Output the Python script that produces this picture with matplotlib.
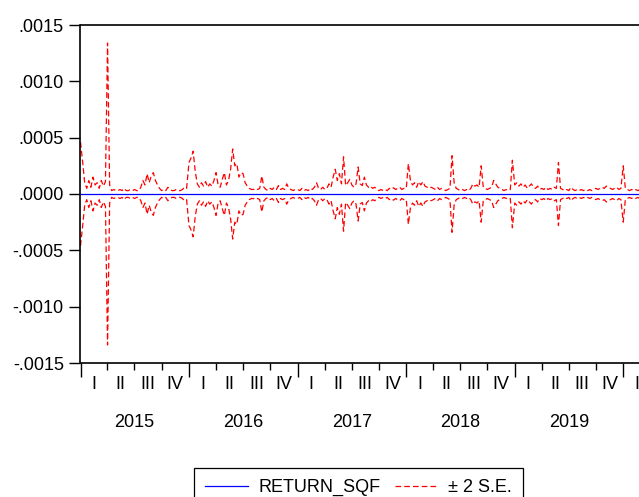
import numpy as np
import pandas as pd
import matplotlib
matplotlib.use('Agg')
import matplotlib.pyplot as plt
from matplotlib.ticker import FuncFormatter
from matplotlib.transforms import blended_transform_factory

plt.rcParams['font.family'] = ['Liberation Sans', 'DejaVu Sans']

# 2*S.E. band (units of 1e-4), one value per week
se2_2015 = [4.6, 2.9, 1.0, 0.5, 1.2, 0.6, 1.5, 0.8, 1.0, 0.5,
            1.2, 0.7, 1.1, 13.4, 0.8, 0.3, 0.4, 0.3, 0.3, 0.4,
            0.3, 0.5, 0.3, 0.3, 0.4, 0.3, 0.4, 0.3, 0.3, 0.6,
            1.2, 0.8, 1.8, 1.0, 1.6, 1.9, 1.2, 0.8, 0.5, 0.3,
            0.4, 0.3, 0.6, 0.4, 0.3, 0.3, 0.4, 0.3, 0.3, 0.4,
            0.6, 0.5]
se2_2016 = [2.8, 3.2, 3.8, 2.0, 0.9, 0.6, 1.0, 0.7, 1.1, 0.6,
            0.9, 0.7, 1.2, 1.9, 0.8, 0.6, 1.3, 1.9, 0.8, 1.2,
            2.2, 4.0, 2.5, 2.7, 1.5, 1.9, 1.8, 1.0, 0.7, 0.5,
            0.4, 0.4, 0.5, 0.4, 0.5, 1.6, 0.6, 0.4, 0.3, 0.5,
            0.4, 0.6, 0.4, 0.75, 0.4, 0.5, 0.4, 0.9, 0.5, 0.4,
            0.3, 0.4]
se2_2017 = [0.4, 0.3, 0.5, 0.3, 0.4, 0.3, 0.5, 0.4, 0.6, 1.0,
            0.5, 0.4, 0.6, 0.4, 0.5, 0.9, 0.6, 1.5, 2.2, 1.2,
            1.8, 0.9, 3.3, 0.75, 1.0, 1.3, 0.8, 0.6, 0.9, 2.4,
            0.9, 0.75, 1.5, 0.8, 0.6, 0.7, 0.5, 0.6, 0.4, 0.3,
            0.4, 0.3, 0.4, 0.3, 0.5, 0.4, 0.55, 0.4, 0.5, 0.6,
            0.4, 0.5]
se2_2018 = [0.5, 2.7, 1.2, 0.8, 1.0, 0.6, 1.1, 0.8, 1.1, 0.7,
            0.6, 0.5, 0.6, 0.5, 0.4, 0.6, 0.4, 0.5, 0.4, 0.3,
            0.4, 0.5, 3.4, 1.0, 0.5, 0.4, 0.3, 0.4, 0.3, 0.4,
            0.3, 0.5, 0.9, 0.7, 0.8, 0.6, 2.5, 0.6, 0.5, 0.4,
            0.5, 0.6, 1.2, 0.9, 0.6, 0.5, 0.4, 0.3, 0.4, 0.3,
            0.4, 3.0]
se2_2019 = [0.8, 1.0, 0.7, 0.9, 0.6, 0.8, 0.5, 0.7, 0.9, 0.6,
            0.5, 0.7, 0.4, 0.5, 0.4, 0.6, 0.4, 0.5, 0.4, 0.6,
            0.5, 2.8, 0.5, 0.4, 0.3, 0.4, 0.3, 0.6, 0.4, 0.3,
            0.4, 0.3, 0.4, 0.3, 0.4, 0.3, 0.4, 0.3, 0.4, 0.5,
            0.4, 0.5, 0.6, 0.5, 0.7, 0.6, 0.5, 0.4, 0.5, 0.6,
            0.4, 0.5]
se2_2020 = [2.5, 0.5, 0.4, 0.3, 0.4, 0.3, 0.4, 0.3, 0.4]

# forecast, one value per quarter start (2015Q1 .. 2020Q2)
return_sqf = [0.000003, 0.000003, 0.000003, 0.000003, 0.000003, 0.000003,
              0.000003, 0.000003, 0.000003, 0.000003, 0.000003, 0.000003,
              0.000003, 0.000003, 0.000003, 0.000003, 0.000003, 0.000003,
              0.000003, 0.000003, 0.000003, 0.000003]

years = [2015, 2016, 2017, 2018, 2019]
quarter_names = ['I', 'II', 'III', 'IV']

# weekly dates for each year
se2_by_year = {2015: se2_2015, 2016: se2_2016, 2017: se2_2017,
               2018: se2_2018, 2019: se2_2019, 2020: se2_2020}
dates = []
band = []
for yr, vals in se2_by_year.items():
    dates += list(pd.date_range(f'{yr}-01-01', periods=len(vals), freq='7D'))
    band += vals
band = np.array(band) * 1e-4
q_dates = pd.date_range('2015-01-01', periods=len(return_sqf), freq='QS')

x_start = pd.Timestamp('2015-01-01')
x_end = pd.Timestamp('2020-02-23')

fig = plt.figure(figsize=(6.39, 4.97), dpi=100)
ax = fig.add_axes([80.5/639, 1-363/497, 1-80.5/639, 338/497])

l1, = ax.plot(q_dates, return_sqf, color='#0000ff', lw=0.9)
l2, = ax.plot(dates, band, color='#ff0000', lw=0.9, dashes=(4.5, 2.5))
ax.plot(dates, -band, color='#ff0000', lw=0.9, dashes=(4.5, 2.5))

ax.set_ylim(-0.0015, 0.0015)
ax.set_yticks([-0.0015, -0.0010, -0.0005, 0.0, 0.0005, 0.0010, 0.0015])
ax.yaxis.set_major_formatter(FuncFormatter(lambda v, p: f'{v:.4f}'.replace('0.', '.')))
ax.tick_params(axis='y', length=8, width=1, pad=4, labelsize=13, direction='out')

# year and quarter ticks
ax.set_xticks([pd.Timestamp(f'{y}-01-01') for y in range(2015, 2021)])
ax.set_xticks([pd.Timestamp(f'{y}-{m:02d}-01') for y in range(2015, 2021)
               for m in (4, 7, 10)], minor=True)
ax.tick_params(axis='x', which='major', length=10, width=1, labelbottom=False)
ax.tick_params(axis='x', which='minor', length=5, width=1, labelbottom=False)
ax.set_xlim(x_start, x_end)

trans = blended_transform_factory(ax.transData, ax.transAxes)
for y in range(2015, 2021):
    for q, name in enumerate(quarter_names):
        start = pd.Timestamp(f'{y}-{3*q+1:02d}-01')
        end = pd.Timestamp(f'{y+1}-01-01') if q == 3 else pd.Timestamp(f'{y}-{3*q+4:02d}-01')
        mid = start + (end - start) / 2
        if mid < x_end:
            ax.text(mid, -0.064, name, transform=trans, ha='center', va='center',
                    fontsize=13, clip_on=False)
for y in years:
    mid = pd.Timestamp(f'{y}-07-02')
    ax.text(mid, -0.175, str(y), transform=trans, ha='center', va='center',
            fontsize=13, clip_on=False)

for s in ['left', 'top', 'bottom']:
    ax.spines[s].set_linewidth(1.2)
ax.spines['right'].set_visible(False)

leg = fig.legend([l1, l2], ['RETURN_SQF', '± 2 S.E.'], loc='upper left',
                 bbox_to_anchor=(194/639, 1-468/497), ncol=2, fontsize=13,
                 fancybox=False, edgecolor='black', framealpha=1,
                 handlelength=2.4, handletextpad=0.55, columnspacing=0.8,
                 borderpad=0.6, borderaxespad=0)
leg.get_frame().set_linewidth(0.9)

fig.savefig('out.png', dpi=100)
